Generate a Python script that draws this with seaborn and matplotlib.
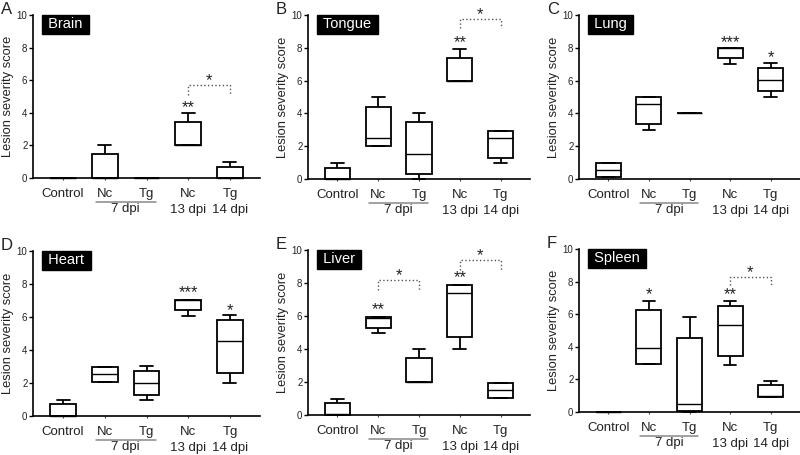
import numpy as np
import pandas as pd
import matplotlib.pyplot as plt
import seaborn as sns

groups = ['Control', 'Nc 7 dpi', 'Tg 7 dpi', 'Nc 13 dpi', 'Tg 14 dpi']
tick_labels = ['Control', 'Nc', 'Tg', 'Nc\n13 dpi', 'Tg\n14 dpi']

# min, q1, median, q3, max per group
brain = [[0, 0, 0, 0, 0], [0, 0, 0, 1.45, 2], [0, 0, 0, 0, 0],
         [2, 2, 2, 3.45, 4], [0, 0, 0, 0.7, 1]]
tongue = [[0, 0, 0, 0.7, 1], [2, 2, 2.5, 4.4, 5], [0, 0.3, 1.5, 3.45, 4],
          [6, 6, 6, 7.4, 7.9], [1, 1.3, 2.5, 2.95, 2.95]]
lung = [[0.1, 0.1, 0.55, 1, 1], [3, 3.35, 4.55, 5, 5], [4, 4, 4, 4.05, 4.05],
        [7, 7.35, 8, 8, 8], [5, 5.35, 6.05, 6.75, 7.05]]
heart = [[0, 0, 0, 0.7, 1], [2.05, 2.05, 2.55, 3, 3], [1, 1.3, 2, 2.75, 3.05],
         [6.05, 6.4, 7.05, 7.05, 7.05], [2, 2.6, 4.55, 5.8, 6.1]]
liver = [[0, 0, 0.05, 0.7, 1], [4.95, 5.25, 5.9, 5.95, 5.95], [2, 2, 2, 3.45, 4],
         [4, 4.75, 7.4, 7.85, 7.85], [1.05, 1.05, 1.5, 1.95, 1.95]]
spleen = [[0, 0, 0, 0, 0], [2.95, 2.95, 3.9, 6.25, 6.8], [0, 0.05, 0.5, 4.55, 5.8],
          [2.9, 3.45, 5.35, 6.5, 6.8], [0.95, 0.95, 1, 1.65, 1.9]]

# (group index, y, label)
brain_stars = [(3, 4.3, '**')]
tongue_stars = [(3, 8.3, '**')]
lung_stars = [(3, 8.3, '***'), (4, 7.4, '*')]
heart_stars = [(3, 7.5, '***'), (4, 6.4, '*')]
liver_stars = [(1, 6.4, '**'), (3, 8.3, '**')]
spleen_stars = [(1, 7.2, '*'), (3, 7.2, '**')]

# (left group, right group, top y, left leg y, right leg y)
brain_brackets = [(3, 4, 5.7, 5.1, 5.1)]
tongue_brackets = [(3, 4, 9.75, 9.2, 9.2)]
lung_brackets = []
heart_brackets = []
liver_brackets = [(1, 2, 8.2, 7.6, 7.6), (3, 4, 9.4, 8.8, 8.8)]
spleen_brackets = [(3, 4, 8.3, 7.8, 7.8)]

panels = [
    ('A', 'Brain', brain, brain_stars, brain_brackets, [33, 15, 227, 163]),
    ('B', 'Tongue', tongue, tongue_stars, tongue_brackets, [308, 15, 222, 164]),
    ('C', 'Lung', lung, lung_stars, lung_brackets, [579, 15, 221, 164]),
    ('D', 'Heart', heart, heart_stars, heart_brackets, [33, 251, 227, 165]),
    ('E', 'Liver', liver, liver_stars, liver_brackets, [308, 250, 222, 165]),
    ('F', 'Spleen', spleen, spleen_stars, spleen_brackets, [579, 249, 221, 163]),
]

sns.set_style('white')
plt.rcParams['font.family'] = ['Liberation Sans', 'DejaVu Sans']

W, H = 800, 455
fig = plt.figure(figsize=(8, 4.55), dpi=100)
text_col = '#222222'

for letter, organ, data, stars, brackets, (x0, y0, w, h) in panels:
    ax = fig.add_axes([x0 / W, 1 - (y0 + h) / H, w / W, h / H])
    df = pd.DataFrame({'group': np.repeat(groups, 5), 'score': np.ravel(data)})
    sns.boxplot(data=df, x='group', y='score', order=groups, whis=(0, 100),
                showfliers=False, width=0.62, color='white', saturation=1,
                linecolor='black', linewidth=1.3,
                medianprops=dict(linewidth=1.0), ax=ax)
    for art in ax.patches + ax.lines:
        art.set_clip_on(False)

    ax.set_xlim(-0.72, 4.72)
    ax.set_ylim(0, 10)
    ax.set_yticks([0, 2, 4, 6, 8, 10])
    ax.set_xticks(range(5))
    ax.set_xticklabels(tick_labels, linespacing=1.35)
    ax.set_xlabel('')
    ax.set_ylabel('Lesion severity score', fontsize=9.3, color=text_col, labelpad=2)
    sns.despine(ax=ax)
    for s in ['left', 'bottom']:
        ax.spines[s].set_color('black')
        ax.spines[s].set_linewidth(1.2)
    ax.tick_params(axis='y', left=True, length=3, width=1, pad=1,
                   labelsize=7, labelcolor=text_col, color='black')
    ax.tick_params(axis='x', bottom=True, length=1.5, width=0.8, pad=6,
                   labelsize=9.5, labelcolor=text_col, color='#444444')

    trans = ax.get_xaxis_transform()
    ax.plot([0.78, 2.22], [-0.147, -0.147], transform=trans, color='#888888',
            linewidth=1.1, clip_on=False)
    ax.text(1.5, -0.19, '7 dpi', transform=trans, ha='center', va='center',
            fontsize=9.5, color=text_col)

    for gi, y, lab in stars:
        ax.text(gi, y, lab, ha='center', va='center', fontsize=12, color=text_col)
    for g1, g2, yt, yl, yr in brackets:
        ax.plot([g1, g1, g2, g2], [yl, yt, yt, yr], linestyle=':', color='#555555',
                linewidth=1.0, clip_on=False)
        ax.text((g1 + g2) / 2, yt + 0.25, '*', ha='center', va='center',
                fontsize=12, color=text_col)

    ax.text(0.05, 0.985, ' ' + organ + ' ', transform=ax.transAxes, ha='left',
            va='top', fontsize=10.5, color='white',
            bbox=dict(boxstyle='square,pad=0.15', facecolor='black', edgecolor='black'))

    fig.text((x0 - 32) / W, 1 - (y0 - 13) / H, letter, ha='left', va='top',
             fontsize=12, color=text_col)

fig.savefig('out.png', dpi=100)
